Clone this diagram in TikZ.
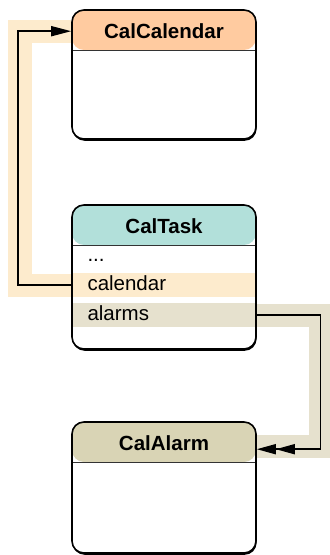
\documentclass[tikz,border=0pt]{standalone}
\usepackage{fontspec}
\setmainfont{Liberation Sans}
\usepackage{xcolor}
\usetikzlibrary{arrows.meta,shadows}
\definecolor{calhead}{RGB}{255,203,160}
\definecolor{taskhead}{RGB}{178,224,218}
\definecolor{alarmhead}{RGB}{217,212,181}
\definecolor{calband}{RGB}{253,235,205}
\definecolor{alarmband}{RGB}{230,225,206}
\pgfdeclarelayer{background}
\pgfsetlayers{background,main}

\begin{document}
\begin{tikzpicture}[x=1bp,y=-1bp]
\tikzset{entity/.style={draw, line width=1.6bp, rounded corners=12bp, fill=white, minimum width=184bp, inner sep=0pt,
  drop shadow={shadow xshift=0.6bp, shadow yshift=-1.8bp, fill=black, opacity=1}}}
\tikzset{header/.style={path picture={
  \fill[#1] (path picture bounding box.north west) rectangle ([yshift=-40bp]path picture bounding box.north east);
  \draw[line width=0.8bp, black!80] ([yshift=-40bp]path picture bounding box.north west) -- ([yshift=-40bp]path picture bounding box.north east);}}}
\tikzset{entityname/.style={font=\bfseries\fontsize{20.5bp}{24bp}\selectfont, text height=15bp, text depth=0pt, inner sep=0pt}}
\tikzset{attr/.style={anchor=west, font=\fontsize{20.5bp}{24bp}\selectfont, text width=153.4bp, inner xsep=14.5bp,
  inner ysep=0pt, minimum height=24bp, text height=15bp, text depth=4bp, align=left}}
\tikzset{rel/.style={line width=1.6bp}}
\tikzset{band/.style={line width=23bp}}

\useasboundingbox (0,0) rectangle (329,555);

% entities
\node[entity, header=calhead, minimum height=129bp] (calendar) at (164,74.5) {};
\node[entityname] (calendart) at ([yshift=-22bp]calendar.north) {CalCalendar};

\node[entity, header=taskhead, minimum height=144bp] (task) at (164,277) {};
\node[entityname] (taskt) at ([yshift=-22bp]task.north) {CalTask};
\node[attr] (taskdots) at (72.8,255.5) {...};
\node[attr, fill=calband] (taskcal) at (72.8,285) {calendar};
\node[attr, fill=alarmband] (taskalarms) at (72.8,315) {alarms};

\node[entity, header=alarmhead, minimum height=131bp] (alarm) at (164,487.5) {};
\node[entityname] (alarmt) at ([yshift=-22bp]alarm.north) {CalAlarm};

% relationships
\draw[rel, -{Triangle[length=20bp,width=10bp]}] (taskcal.west) -- ++(-54.8bp,0) |- (calendar.west |- calendart);
\draw[rel, -{Triangle[length=19bp,width=10bp] Triangle[length=19bp,width=10bp]}] (taskalarms.east) -- ++(64.8bp,0) |- ([yshift=-6bp]alarm.east |- alarmt);

\begin{pgfonlayer}{background}
\draw[band, calband] (taskcal.west) -- ++(-52.8bp,0) |- (calendar.west |- calendart);
\draw[band, alarmband] (taskalarms.east) -- ++(64.8bp,0) |- ([yshift=-3bp]alarm.east |- alarmt);
\end{pgfonlayer}

\end{tikzpicture}
\end{document}
